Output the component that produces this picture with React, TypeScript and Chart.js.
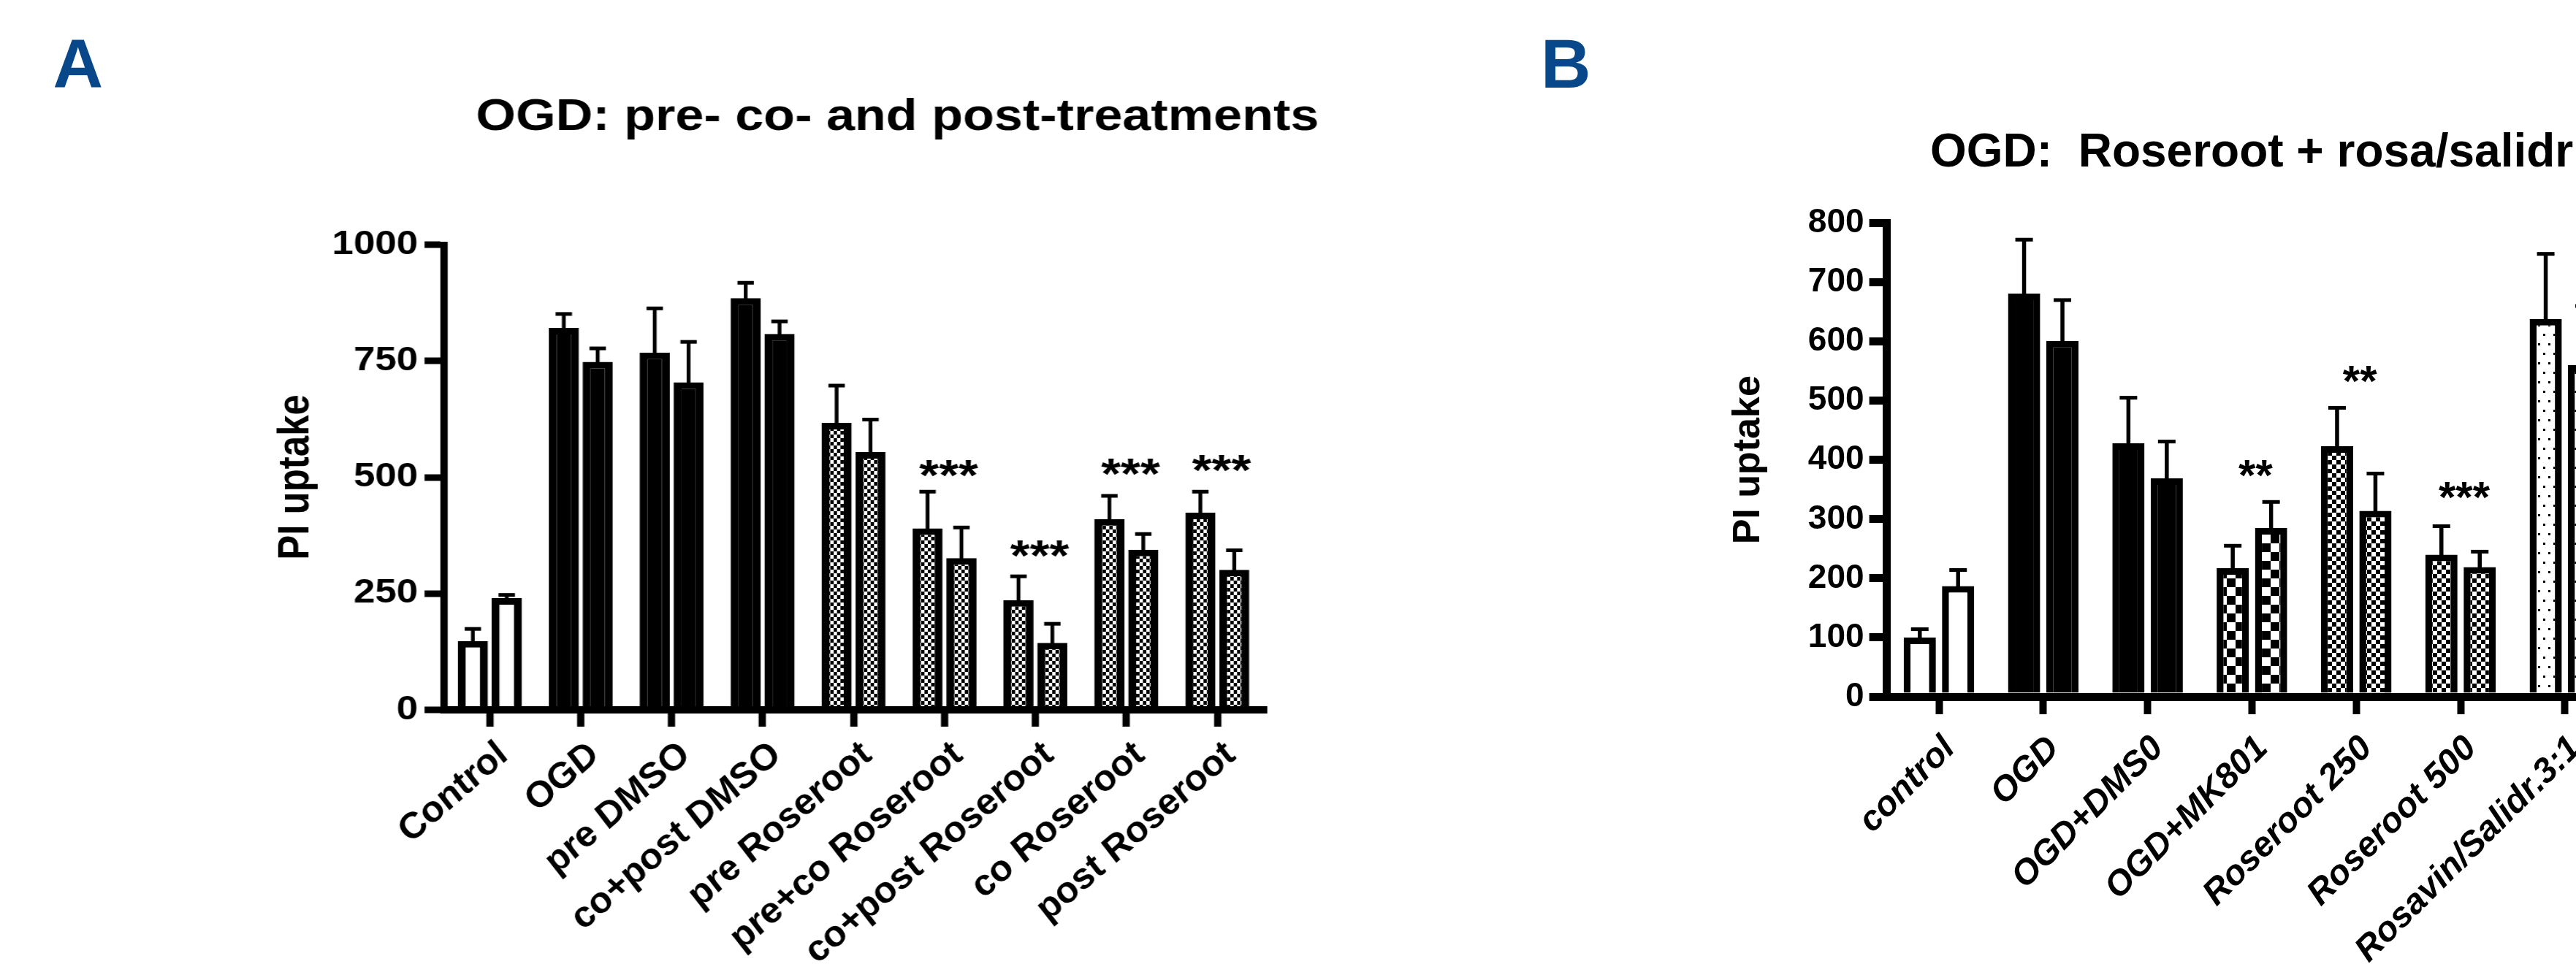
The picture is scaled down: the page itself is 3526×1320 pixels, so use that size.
import React, { useEffect, useRef } from 'react';
import { Chart, registerables } from 'chart.js';

Chart.register(...registerables);

const FONT = "'Liberation Sans', Arial, Helvetica, sans-serif";

// ---------- Panel A data ----------
const categoriesA = ['Control', 'OGD', 'pre DMSO', 'co+post DMSO', 'pre Roseroot', 'pre+co Roseroot', 'co+post Roseroot', 'co Roseroot', 'post Roseroot'];
const barsA1 = [148, 821, 768, 885, 617, 390, 236, 410, 424];
const errTopA1 = [174, 851, 863, 918, 697, 469, 287, 460, 469];
const barsA2 = [240, 748, 704, 808, 554, 326, 144, 344, 301];
const errTopA2 = [247, 777, 791, 835, 624, 392, 185, 378, 343];
const starsA = ['', '', '', '', '', '***', '***', '***', '***'];
const starLevelsA = [null, null, null, null, null, 527, 355, 531, 538];
const yTicksA = [0, 250, 500, 750, 1000];
const fillKindsA = ['open', 'solid', 'solid', 'solid', 'fine', 'fine', 'fine', 'fine', 'fine'];

// ---------- Panel B data ----------
const categoriesB = ['control', 'OGD', 'OGD+DMS0', 'OGD+MK801', 'Roseroot 250', 'Roseroot 500', 'Rosavin/Salidr.3:1'];
const barsB1 = [100, 681, 428, 217, 423, 240, 638];
const errTopB1 = [114, 772, 505, 255, 488, 288, 748];
const barsB2 = [187, 601, 369, 285, 314, 219, 560];
const errTopB2 = [214, 670, 431, 329, 377, 245, 660];
const starsB = ['', '', '', '**', '**', '***', ''];
const starLevelsB = [null, null, null, 393, 551, 355, null];
const yTicksB = [0, 100, 200, 300, 400, 500, 600, 700, 800];
const fillKindsB = ['open', 'solid', 'solid', 'coarse', 'fine6', 'fine6', 'dots'];

const titleA = 'OGD: pre- co- and post-treatments';
const titleB = 'OGD:  Roseroot + rosa/salidr';
const yTitle = 'PI uptake';

// horizontal stretch of panel A (as in the reference)
const STRETCH_A = 1.15;
const A_W = 1650;
const B_W = 3620;
const H = 1320;

function makePattern(w: number, h: number, draw: (g: CanvasRenderingContext2D) => void) {
  const c = document.createElement('canvas');
  c.width = w;
  c.height = h;
  const g = c.getContext('2d')!;
  g.fillStyle = '#ffffff';
  g.fillRect(0, 0, w, h);
  g.fillStyle = '#000000';
  draw(g);
  return g.createPattern(c, 'repeat')!;
}

function errorBarsPlugin(stemW: number, capW: number, capH: number) {
  return {
    id: 'errorBars',
    afterDatasetsDraw(chart: any) {
      const ctx = chart.ctx;
      const ys = chart.scales.y;
      chart.data.datasets.forEach((ds: any, i: number) => {
        if (!ds.errTop) return;
        const meta = chart.getDatasetMeta(i);
        meta.data.forEach((el: any, j: number) => {
          const top = ds.errTop[j];
          if (top == null) return;
          const x = el.x;
          const yBar = el.y;
          const yTop = ys.getPixelForValue(top);
          ctx.save();
          ctx.fillStyle = '#000';
          ctx.fillRect(x - stemW / 2, yTop, stemW, yBar - yTop + 3);
          ctx.fillRect(x - capW / 2, yTop - capH / 2, capW, capH);
          ctx.restore();
        });
      });
    },
  };
}

function starsPlugin(marks: string[], levels: (number | null)[], size: number, dx: number) {
  return {
    id: 'stars',
    afterDatasetsDraw(chart: any) {
      const ctx = chart.ctx;
      const xs = chart.scales.x;
      const ys = chart.scales.y;
      ctx.save();
      ctx.fillStyle = '#000';
      ctx.font = `bold ${size}px ${FONT}`;
      ctx.textAlign = 'center';
      ctx.textBaseline = 'alphabetic';
      marks.forEach((m, j) => {
        const lv = levels[j];
        if (!m || lv == null) return;
        const x = xs.getPixelForValue(j) + dx;
        const y = ys.getPixelForValue(lv) + size * 0.585;
        ctx.fillText(m, x, y);
      });
      ctx.restore();
    },
  };
}

type TextItem = { text: string; x: number; y: number; size: number; color: string };
function textPlugin(items: TextItem[]) {
  return {
    id: 'panelText',
    afterDraw(chart: any) {
      const ctx = chart.ctx;
      ctx.save();
      ctx.textAlign = 'left';
      ctx.textBaseline = 'alphabetic';
      items.forEach((it) => {
        ctx.font = `bold ${it.size}px ${FONT}`;
        ctx.fillStyle = it.color;
        ctx.fillText(it.text, it.x, it.y);
      });
      ctx.restore();
    },
  };
}

export default function App() {
  const refA = useRef<HTMLCanvasElement>(null);
  const refB = useRef<HTMLCanvasElement>(null);

  useEffect(() => {
    const patFineA = makePattern(8, 10, (g) => {
      g.fillRect(0, 0, 4, 5);
      g.fillRect(4, 5, 4, 5);
    });
    const patFineB = makePattern(12, 12, (g) => {
      g.fillRect(0, 0, 6, 6);
      g.fillRect(6, 6, 6, 6);
    });
    const patCoarse = makePattern(24, 24, (g) => {
      g.fillRect(0, 0, 12, 12);
      g.fillRect(12, 12, 12, 12);
    });
    const patDots = makePattern(14, 26, (g) => {
      g.fillRect(2, 2, 3, 3);
      g.fillRect(9, 15, 3, 3);
    });
    const fillOf = (k: string) =>
      k === 'open' ? '#ffffff' : k === 'solid' ? '#000000' : k === 'fine' ? patFineA : k === 'fine6' ? patFineB : k === 'coarse' ? patCoarse : patDots;

    const fillsA = fillKindsA.map(fillOf);
    const fillsB = fillKindsB.map(fillOf);

    // ---------- Chart A (drawn in unstretched coordinates, stretched by CSS) ----------
    const aLeft = 608 / STRETCH_A;
    const aRight = 1728 / STRETCH_A;
    const aTop = 335;
    const aBottom = 972;
    const barBorderA = { top: 9, left: 9.5, right: 9.5, bottom: 0 };

    const chartA = new Chart(refA.current!, {
      type: 'bar',
      data: {
        labels: categoriesA,
        datasets: [
          { data: barsA1, errTop: errTopA1, backgroundColor: fillsA, borderColor: '#000', borderWidth: barBorderA, categoryPercentage: 0.745, barPercentage: 0.89 } as any,
          { data: barsA2, errTop: errTopA2, backgroundColor: fillsA, borderColor: '#000', borderWidth: barBorderA, categoryPercentage: 0.745, barPercentage: 0.89 } as any,
        ],
      },
      options: {
        responsive: false,
        animation: false,
        devicePixelRatio: 1,
        layout: { padding: { left: 0, top: aTop, right: A_W - aRight, bottom: 0 } },
        plugins: { legend: { display: false }, tooltip: { enabled: false }, title: { display: false } },
        scales: {
          x: {
            type: 'category',
            offset: true,
            grid: { display: true, drawOnChartArea: false, offset: false, drawTicks: true, tickLength: 23, tickWidth: 8.7, tickColor: '#000', lineWidth: 10, color: '#000' },
            border: { display: true, color: '#000', width: 10, z: 1 },
            ticks: {
              autoSkip: false,
              minRotation: 45,
              maxRotation: 45,
              padding: 12,
              labelOffset: 16,
              color: '#000',
              font: { family: FONT, size: 47, style: 'italic', weight: 'bold' },
            },
            afterFit: (s: any) => { s.height = H - aBottom; },
          },
          y: {
            type: 'linear',
            min: 0,
            max: 1000,
            grid: { display: true, drawOnChartArea: false, drawTicks: true, tickLength: 23.5, tickWidth: 9, tickColor: '#000', lineWidth: 10, color: '#000' },
            border: { display: true, color: '#000', width: 8.7, z: 1 },
            ticks: {
              autoSkip: false,
              padding: 7.8,
              color: '#000',
              font: { family: FONT, size: 46, weight: 'bold' },
              callback: (v: any) => String(v),
            },
            afterBuildTicks: (s: any) => { s.ticks = yTicksA.map((v) => ({ value: v })); },
            afterFit: (s: any) => { s.width = aLeft; },
            title: {
              display: true,
              text: yTitle,
              color: '#000',
              font: { family: FONT, size: 51, weight: 'bold' },
              padding: { top: 406 / STRETCH_A - 30.6, bottom: 0 },
            },
          },
        },
      } as any,
      plugins: [
        errorBarsPlugin(4.5, 19.5, 5),
        starsPlugin(starsA, starLevelsA, 60, 5),
        textPlugin([{ text: titleA, x: 654 / STRETCH_A - 2.4, y: 177.5, size: 61, color: '#000' }]),
      ] as any,
    });

    // ---------- Chart B ----------
    const bLeft = 2582.6;
    const catW = 142.8;
    const bRight = bLeft + catW * categoriesB.length;
    const bTop = 305.5;
    const bBottom = 954;
    const padLeftB = 2300;
    const barBorderB = { top: 9, left: 9.5, right: 9.5, bottom: 0 };

    const chartB = new Chart(refB.current!, {
      type: 'bar',
      data: {
        labels: categoriesB,
        datasets: [
          { data: barsB1, errTop: errTopB1, backgroundColor: fillsB, borderColor: '#000', borderWidth: barBorderB, categoryPercentage: 0.735, barPercentage: 0.84 } as any,
          { data: barsB2, errTop: errTopB2, backgroundColor: fillsB, borderColor: '#000', borderWidth: barBorderB, categoryPercentage: 0.735, barPercentage: 0.84 } as any,
        ],
      },
      options: {
        responsive: false,
        animation: false,
        devicePixelRatio: 1,
        layout: { padding: { left: padLeftB, top: bTop, right: B_W - bRight, bottom: 0 } },
        plugins: { legend: { display: false }, tooltip: { enabled: false }, title: { display: false } },
        scales: {
          x: {
            type: 'category',
            offset: true,
            grid: { display: true, drawOnChartArea: false, offset: false, drawTicks: true, tickLength: 24, tickWidth: 10, tickColor: '#000', lineWidth: 11, color: '#000' },
            border: { display: true, color: '#000', width: 11, z: 1 },
            ticks: {
              autoSkip: false,
              minRotation: 45,
              maxRotation: 45,
              padding: 19,
              labelOffset: 14.5,
              color: '#000',
              font: { family: FONT, size: 48, style: 'italic', weight: 'bold' },
            },
            afterFit: (s: any) => { s.height = H - bBottom; },
          },
          y: {
            type: 'linear',
            min: 0,
            max: 800,
            grid: { display: true, drawOnChartArea: false, drawTicks: true, tickLength: 24, tickWidth: 11, tickColor: '#000', lineWidth: 11, color: '#000' },
            border: { display: true, color: '#000', width: 11, z: 1 },
            ticks: {
              autoSkip: false,
              padding: 7,
              color: '#000',
              font: { family: FONT, size: 46, weight: 'bold' },
              callback: (v: any) => String(v),
            },
            afterBuildTicks: (s: any) => { s.ticks = yTicksB.map((v) => ({ value: v })); },
            afterFit: (s: any) => { s.width = bLeft - padLeftB; },
            title: {
              display: true,
              text: yTitle,
              color: '#000',
              font: { family: FONT, size: 52, weight: 'bold' },
              padding: { top: 2394 - padLeftB - 31.2, bottom: 0 },
            },
          },
        },
      } as any,
      plugins: [
        errorBarsPlugin(5.5, 24, 5),
        starsPlugin(starsB, starLevelsB, 60, 5),
        textPlugin([
          { text: 'A', x: 72.5, y: 120, size: 95, color: '#08488A' },
          { text: 'B', x: 2109, y: 120, size: 95, color: '#08488A' },
          { text: titleB, x: 2642, y: 227.5, size: 64, color: '#000' },
        ]),
      ] as any,
    });

    return () => {
      chartA.destroy();
      chartB.destroy();
    };
  }, []);

  return (
    <div style={{ position: 'fixed', left: 0, top: 0, width: 3526, height: H, overflow: 'hidden', background: '#ffffff' }}>
      <canvas
        ref={refB}
        width={B_W}
        height={H}
        style={{ position: 'absolute', left: 0, top: 0, width: `${B_W}px`, height: `${H}px` }}
      />
      <canvas
        ref={refA}
        width={A_W}
        height={H}
        style={{ position: 'absolute', left: 0, top: 0, width: `${A_W * STRETCH_A}px`, height: `${H}px` }}
      />
    </div>
  );
}
